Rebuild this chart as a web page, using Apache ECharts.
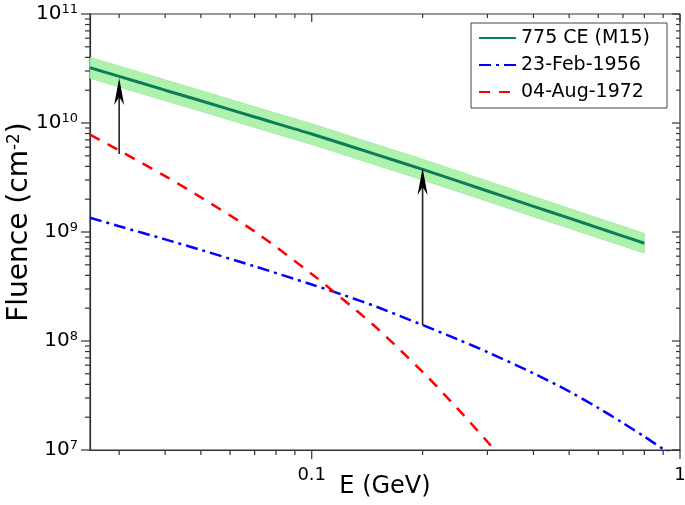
<!DOCTYPE html>
<html><head><meta charset="utf-8">
<script src="https://cdn.jsdelivr.net/npm/echarts@6/dist/echarts.min.js"></script>
<style>html,body{margin:0;padding:0;background:#fff}#c{width:685px;height:505px}</style>
</head><body><div id="c"></div>
<script>
// ---- data ----
const m15Energy  = [0.025, 0.03, 0.04, 0.05, 0.07, 0.1, 0.15, 0.2, 0.3, 0.4, 0.5, 0.6, 0.7, 0.8];
const m15Fluence = [3.21e10, 2.68e10, 2.00e10, 1.60e10, 1.135e10, 7.93e9, 5.12e9, 3.75e9, 2.38e9, 1.72e9, 1.34e9, 1.09e9, 9.18e8, 7.89e8];
const m15Upper   = [4.0e10, 3.34e10, 2.49e10, 1.99e10, 1.41e10, 9.85e9, 6.35e9, 4.65e9, 2.94e9, 2.12e9, 1.65e9, 1.34e9, 1.13e9, 9.7e8];
const m15Lower   = [2.57e10, 2.14e10, 1.60e10, 1.28e10, 9.1e9, 6.35e9, 4.1e9, 3.0e9, 1.91e9, 1.38e9, 1.08e9, 8.8e8, 7.45e8, 6.4e8];

const e1956Energy  = [0.025, 0.03, 0.04, 0.05, 0.07, 0.1, 0.12, 0.15, 0.2, 0.25, 0.3, 0.4, 0.5, 0.6, 0.7, 0.8, 0.9, 0.95];
const e1956Fluence = [1.35e9, 1.13e9, 8.55e8, 6.85e8, 4.84e8, 3.30e8, 2.69e8, 2.06e8, 1.40e8, 1.03e8, 7.91e7, 5.05e7, 3.45e7, 2.43e7, 1.77e7, 1.33e7, 1.02e7, 9.1e6];

const e1972Energy  = [0.025, 0.03, 0.04, 0.05, 0.07, 0.1, 0.12, 0.15, 0.2, 0.25, 0.3, 0.33];
const e1972Fluence = [7.83e9, 5.60e9, 3.25e9, 2.08e9, 1.01e9, 4.12e8, 2.50e8, 1.32e8, 5.20e7, 2.36e7, 1.19e7, 8.1e6];

const arrowEnergy = [0.03, 0.2];
const arrowFrom   = [5.2e9, 1.40e8];
const arrowTo     = [2.59e10, 3.86e9];

const seriesNames = ['775 CE (M15)', '23-Feb-1956', '04-Aug-1972'];
const xLabelValues = [0.1, 1];
const xLabelTexts  = ['0.1', '1'];
const xMinorValues = [0.03, 0.04, 0.05, 0.06, 0.07, 0.08, 0.09, 0.2, 0.3, 0.4, 0.5, 0.6, 0.7, 0.8, 0.9];
const yMajorValues = [1e7, 1e8, 1e9, 1e10, 1e11];
const yExponents   = ['7', '8', '9', '10', '11'];
const yMinorValues = [];
for (let d = 7; d < 11; d++) for (let m = 2; m <= 9; m++) yMinorValues.push(m * Math.pow(10, d));

// ---- chart ----
const FONT = 'DejaVu Sans';
const AXC = '#333';
const X_MIN = 0.025, X_MAX = 1, Y_MIN = 1e7, Y_MAX = 1e11;
const zip = (a, b) => a.map((v, i) => [v, b[i]]);

const chart = echarts.init(document.getElementById('c'), null, { renderer: 'canvas' });
chart.setOption({
  animation: false,
  backgroundColor: '#fff',
  textStyle: { fontFamily: FONT },
  grid: { left: 90, right: 5, top: 14, bottom: 55, containLabel: false, outerBoundsMode: 'none',
          show: true, borderColor: AXC, borderWidth: 1.2, backgroundColor: 'transparent' },
  legend: {
    data: seriesNames,
    orient: 'vertical',
    left: 471, top: 23,
    itemWidth: 37, itemHeight: 14, itemGap: 7,
    padding: [5, 17, 6, 7],
    borderColor: '#444', borderWidth: 1, backgroundColor: '#fff',
    itemStyle: { opacity: 0 },
    textStyle: { fontFamily: FONT, fontSize: 19, color: '#000', lineHeight: 20 },
    selectedMode: false
  },
  xAxis: {
    type: 'log', logBase: 10, min: X_MIN, max: X_MAX, position: 'bottom',
    axisLine: { show: true, lineStyle: { color: AXC, width: 1.2 } },
    axisTick: { show: false },
    splitLine: { show: false }, minorTick: { show: false }, minorSplitLine: { show: false },
    name: 'E (GeV)', nameLocation: 'middle', nameGap: 25, nameMoveOverlap: false,
    nameTextStyle: { fontFamily: FONT, fontSize: 24, color: '#000' },
    axisLabel: {
      show: true, customValues: xLabelValues, margin: 16,
      fontFamily: FONT, fontSize: 18, color: '#000',
      formatter: v => { const i = xLabelValues.findIndex(x => Math.abs(x - v) / x < 1e-6); return i >= 0 ? xLabelTexts[i] : ''; }
    }
  },
  yAxis: {
    type: 'log', logBase: 10, min: Y_MIN, max: Y_MAX, position: 'left',
    axisLine: { show: true, lineStyle: { color: AXC, width: 1.2 } },
    axisTick: { show: false },
    splitLine: { show: false }, minorTick: { show: false }, minorSplitLine: { show: false },
    name: 'Fluence (cm{s|-2})', nameLocation: 'middle', nameGap: 56, nameRotate: 90, nameMoveOverlap: false,
    nameTextStyle: { fontFamily: FONT, fontSize: 28, color: '#000', padding: [0, 0, 0, 20],
      rich: { s: { fontFamily: FONT, fontSize: 17, color: '#000', verticalAlign: 'top' } } },
    axisLabel: {
      show: true, customValues: yMajorValues, margin: 12, color: '#000',
      formatter: v => { const i = yMajorValues.findIndex(x => Math.abs(x - v) / x < 1e-6); return i >= 0 ? '{b|10}{s|' + yExponents[i] + '}' : ''; },
      rich: {
        b: { fontFamily: FONT, fontSize: 20, color: '#000', lineHeight: 22 },
        s: { fontFamily: FONT, fontSize: 13, color: '#000', verticalAlign: 'top' }
      }
    }
  },
  series: [
    {
      type: 'custom', name: 'band', silent: true, z: 1,
      data: m15Energy.map((e, i) => [e, m15Upper[i], m15Lower[i]]),
      encode: { x: 0, y: [1, 2] },
      renderItem: (params, api) => {
        if (params.dataIndex !== 0) return null;
        const pts = [];
        for (let k = 0; k < m15Energy.length; k++) pts.push(api.coord([m15Energy[k], m15Upper[k]]));
        for (let k = m15Energy.length - 1; k >= 0; k--) pts.push(api.coord([m15Energy[k], m15Lower[k]]));
        return { type: 'polygon', shape: { points: pts }, style: { fill: '#aef2ae', stroke: '#9fe89f', lineWidth: 0.8 } };
      }
    },
    {
      type: 'line', name: seriesNames[0], z: 5,
      data: zip(m15Energy, m15Fluence), symbol: 'none', showSymbol: false, smooth: 0.3,
      lineStyle: { color: '#0b7d58', width: 3 }, itemStyle: { color: '#0b7d58' }
    },
    {
      type: 'line', name: seriesNames[1], z: 4,
      data: zip(e1956Energy, e1956Fluence), symbol: 'none', showSymbol: false, smooth: 0.3,
      lineStyle: { color: '#0000ff', width: 2.5, type: [12, 5, 3, 5] }, itemStyle: { color: '#0000ff' }
    },
    {
      type: 'line', name: seriesNames[2], z: 4,
      data: zip(e1972Energy, e1972Fluence), symbol: 'none', showSymbol: false, smooth: 0.3,
      lineStyle: { color: '#ff0000', width: 2.5, type: [11, 9] }, itemStyle: { color: '#ff0000' }
    },
    {
      type: 'custom', name: 'arrows', silent: true, z: 6,
      data: arrowEnergy.map((e, i) => [e, arrowFrom[i], arrowTo[i]]),
      encode: { x: 0, y: [1, 2] },
      renderItem: (params, api) => {
        const b = api.coord([api.value(0), api.value(1)]);
        const t = api.coord([api.value(0), api.value(2)]);
        return { type: 'group', children: [
          { type: 'line', shape: { x1: b[0], y1: b[1], x2: t[0], y2: t[1] + 14 }, style: { stroke: '#222', lineWidth: 1.6 } },
          { type: 'polygon', shape: { points: [[t[0], t[1]], [t[0] - 5, t[1] + 27], [t[0], t[1] + 19], [t[0] + 5, t[1] + 27]] }, style: { fill: '#000' } }
        ] };
      }
    }
  ]
});

// ---- tick marks, placed through the chart's own axis scales ----
const tickEls = [];
const toPx = (x, y) => chart.convertToPixel({ xAxisIndex: 0, yAxisIndex: 0 }, [x, y]);
const xPx = v => toPx(v, 1e9)[0];
const yPx = v => toPx(0.1, v)[1];
const gl = xPx(X_MIN), gr = xPx(X_MAX), gt = yPx(Y_MAX), gb = yPx(Y_MIN);
const seg = (x1, y1, x2, y2) => tickEls.push({ type: 'line', silent: true, z: 100,
  shape: { x1: x1, y1: y1, x2: x2, y2: y2 }, style: { stroke: AXC, lineWidth: 1.2 } });
const xTicks = (values, outL, inL) => values.forEach(v => {
  const x = xPx(v); seg(x, gb, x, gb + outL); seg(x, gt, x, gt + inL);
});
const yTicks = (values, outL, inL) => values.forEach(v => {
  const y = yPx(v); seg(gl - outL, y, gl, y); seg(gr - inL, y, gr, y);
});
xTicks(xLabelValues, 9, 8);
xTicks(xMinorValues, 5, 4);
yTicks(yMajorValues, 9, 8);
yTicks(yMinorValues, 5, 4);
chart.setOption({ graphic: tickEls });
</script>
</body></html>
